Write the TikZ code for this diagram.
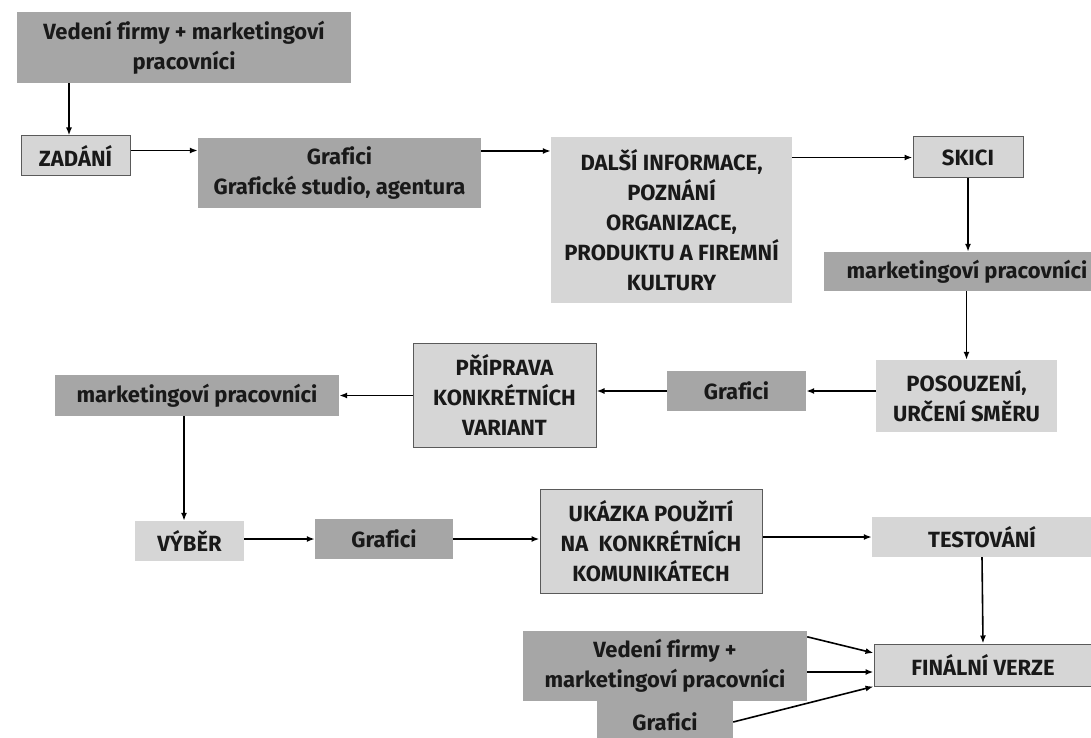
\documentclass[tikz,border=0pt]{standalone}
\usepackage{fontspec}
\setmainfont{Fira Sans}[Ligatures=NoCommon]
\usetikzlibrary{arrows.meta}
\definecolor{boxdark}{HTML}{A6A6A6}
\definecolor{boxlight}{HTML}{D6D6D6}
\definecolor{boxline}{HTML}{5A5A5A}
\begin{document}
\begin{tikzpicture}[x=1pt, y=-1pt,
    every node/.style={inner sep=0pt, align=center, text=black!90,
      font=\bfseries\fontsize{22}{30}\selectfont},
    dark/.style={fill=boxdark},
    light/.style={fill=boxlight},
    framed/.style={fill=boxlight, draw=boxline, line width=1pt},
    flow/.style={-{Latex[length=8pt,width=6pt]}, line width=1.6pt}]
    \clip (0, 0) rectangle (1091, 738);

    \node [dark, minimum width=334pt, minimum height=71pt] (vedeni) at (184, 47.5) {Vedení firmy + marketingoví\\pracovníci};
    \node [framed, minimum width=109pt, minimum height=40pt] (zadani) at (75.5, 156) {ZADÁNÍ};
    \node [dark, minimum width=283pt, minimum height=70pt] (grafici) at (339.5, 173) {Grafici\\Grafické studio, agentura};
    \node [light, minimum width=241pt, minimum height=166pt] (dalsi) at (671.5, 220) {DALŠÍ INFORMACE,\\POZNÁNÍ\\ORGANIZACE,\\PRODUKTU A FIREMNÍ\\KULTURY};
    \node [framed, minimum width=110pt, minimum height=41pt] (skici) at (968, 157.5) {SKICI};
    \node [dark, minimum width=286pt, minimum height=39pt] (markA) at (967, 271.5) {marketingoví pracovníci};

    \node [light, minimum width=181pt, minimum height=72pt] (posouzeni) at (966.5, 396) {POSOUZENÍ,\\URČENÍ SMĚRU};
    \node [dark, minimum width=139pt, minimum height=40pt] (graficiB) at (736.5, 391) {Grafici};
    \node [framed, minimum width=183pt, minimum height=104pt] (priprava) at (504.5, 395) {PŘÍPRAVA\\KONKRÉTNÍCH\\VARIANT};
    \node [dark, minimum width=284pt, minimum height=41pt] (markB) at (197, 395.5) {marketingoví pracovníci};

    \node [light, minimum width=109pt, minimum height=40pt] (vyber) at (189.5, 541) {VÝBĚR};
    \node [dark, minimum width=138pt, minimum height=40pt] (graficiC) at (384, 539) {Grafici};
    \node [framed, minimum width=222pt, minimum height=104pt] (ukazka) at (651, 541) {UKÁZKA POUŽITÍ\\NA~~KONKRÉTNÍCH\\KOMUNIKÁTECH};
    \node [light, minimum width=220pt, minimum height=40pt] (testovani) at (982, 537) {TESTOVÁNÍ};

    \node [framed, minimum width=218pt, minimum height=42pt] (finalni) at (983, 665) {FINÁLNÍ VERZE};
    \node [dark, minimum width=284pt, minimum height=70pt] (vedeniB) at (665, 666) {Vedení firmy +\\marketingoví pracovníci};
    \node [dark, minimum width=136pt, minimum height=42pt] (graficiD) at (665, 722) {Grafici};

    \draw [flow] ([xshift=-6.5pt]zadani.north |- vedeni.south) -- ([xshift=-6.5pt]zadani.north);
    \draw [flow] ([yshift=5.5pt]zadani.east) -- ([yshift=5.5pt]zadani.east -| grafici.west);
    \draw [flow] ([yshift=22pt]grafici.east) -- ([yshift=22pt]grafici.east -| dalsi.west);
    \draw [flow] (skici.west -| dalsi.east) -- (skici.west);
    \draw [flow] (skici.south) -- (skici.south |- markA.north);
    \draw [flow] (posouzeni.north |- markA.south) -- (posouzeni.north);

    \draw [flow] (posouzeni.west |- graficiB.east) -- (graficiB.east);
    \draw [flow] (graficiB.west) -- (graficiB.west -| priprava.east);
    \draw [flow] (priprava.west |- markB.east) -- (markB.east);
    \draw [flow] ([xshift=-5.5pt]vyber.north |- markB.south) -- ([xshift=-5.5pt]vyber.north);

    \draw [flow] (vyber.east |- graficiC.west) -- (graficiC.west);
    \draw [flow] (graficiC.east) -- (graficiC.east -| ukazka.west);
    \draw [flow] (ukazka.east |- testovani.west) -- (testovani.west);
    \draw [flow] (testovani.south) -- (finalni.north);

    \draw [flow] ([yshift=-6pt]vedeniB.north east) -- ([yshift=12pt]finalni.west);
    \draw [flow] ([yshift=-6pt]vedeniB.east) -- ([yshift=-6pt]vedeniB.east -| finalni.west);
    \draw [flow] (graficiD.east) -- (finalni.south west);
\end{tikzpicture}
\end{document}
